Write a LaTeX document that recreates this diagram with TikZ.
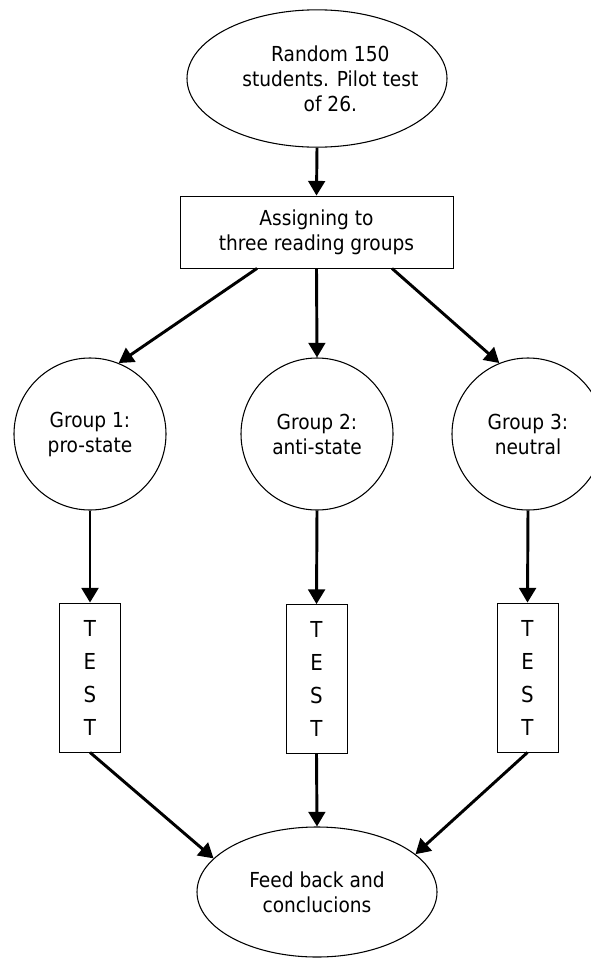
\documentclass[tikz,border=0pt]{standalone}
\usepackage{fontspec}
\setmainfont{DejaVu Sans Condensed}
\usetikzlibrary{arrows.meta,positioning,calc,shapes.geometric}

\begin{document}
\begin{tikzpicture}[x=0.75pt,y=-0.75pt,
  txt/.style={font=\fontsize{15.5}{18.75}\selectfont,align=center},
  oval/.style={ellipse,draw,line width=0.8pt,inner sep=0pt,txt},
  box/.style={rectangle,draw,line width=0.6pt,inner sep=0pt,txt},
  grp/.style={circle,draw,line width=0.8pt,minimum size=114pt,inner sep=0pt,txt},
  testbox/.style={box,minimum width=45.75pt,minimum height=111.75pt,font=\fontsize{16.5}{24.75}\selectfont},
  flow/.style={-{Triangle[length=11pt,width=12.5pt]},line width=2.2pt}]
\useasboundingbox (0,0) rectangle (591,960);
% sample and grouping
\node[oval,inner xsep=-30pt,minimum width=195pt,minimum height=103pt] (pool) at (317,78.5) {\hspace*{20pt}Random 150\\\hspace*{20pt}students. Pilot test\\\hspace*{20pt}of 26.};
\node[box,minimum width=204.75pt,minimum height=54pt] (assign) at (316.5,232) {Assigning to\\three reading groups};
\node[grp] (g1) at (90,434) {Group 1:\\pro-state};
\node[grp] (g2) at (317,434) {Group 2:\\anti-state};
\node[grp] (g3) at (528,434) {Group 3:\\neutral};
% tests
\node[testbox] (t1) at (90,677.5) {T\\E\\S\\T};
\node[testbox] (t2) at (316.5,679) {T\\E\\S\\T};
\node[testbox] (t3) at (527.5,677.5) {T\\E\\S\\T};
\node[oval,minimum width=180pt,minimum height=97.5pt] (fb) at (317,892) {Feed back and\\conclucions};
% arrows
\draw[flow] (pool.south) -- (assign.north);
\draw[flow] ([xshift=-44.6pt]assign.south) -- (g1.68);
\draw[flow] (assign.south) -- (g2.north);
\draw[flow] ([xshift=56.6pt]assign.south) -- (g3.112);
\draw[flow] (g1.south) -- (t1.north);
\draw[flow] (g2.south) -- (t2.north);
\draw[flow] (g3.south) -- (t3.north);
\draw[flow] (t1.south) -- (fb.162);
\draw[flow] (t2.south) -- (fb.north);
\draw[flow] (t3.south) -- (fb.21);
\end{tikzpicture}
\end{document}
